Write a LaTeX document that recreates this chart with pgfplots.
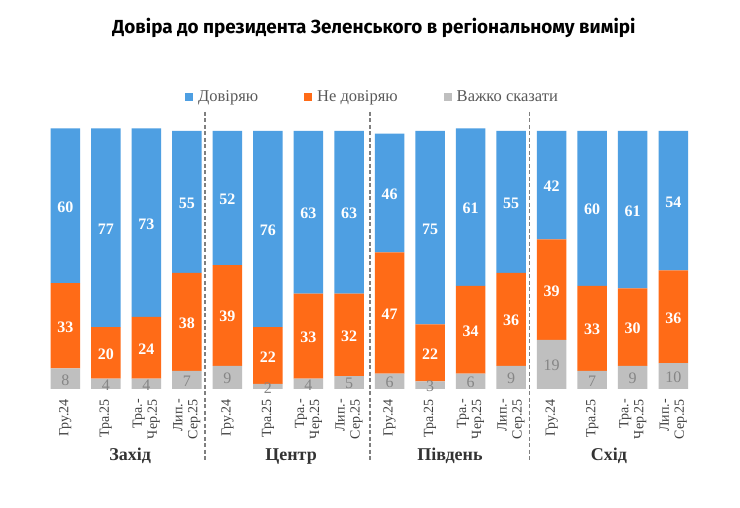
\documentclass[border=0pt]{standalone}
\usepackage{pgfplots}
\pgfplotsset{compat=1.18}
\usepackage{pgfplotstable}
\usepackage{fontspec}
\setmainfont{Liberation Serif}
\newfontfamily\titlefont{Fira Sans}
\definecolor{cblue}{HTML}{4E9FE2}
\definecolor{corange}{HTML}{FF6B17}
\definecolor{cgray}{HTML}{BFBFBF}
\definecolor{cgraytxt}{HTML}{858585}
\definecolor{ctick}{HTML}{404040}
\definecolor{clegend}{HTML}{595959}
\definecolor{csep}{HTML}{7F7F7F}
\pgfplotstableread{
x t n h
0 60 33 8
1 77 20 4
2 73 24 4
3 55 38 7
4 52 39 9
5 76 22 2
6 63 33 4
7 63 32 5
8 46 47 6
9 75 22 3
10 61 34 6
11 55 36 9
12 42 39 19
13 60 33 7
14 61 30 9
15 54 36 10
}\datatable
\begin{document}
\begin{tikzpicture}[x=1pt,y=1pt]
\path[use as bounding box,fill=white] (0,0) rectangle (740,508);
\node[font=\titlefont\bfseries\fontsize{18.9}{22}\selectfont] at (374,480) {Довіра до президента Зеленського в регіональному вимірі};
\begin{axis}[
  at={(45.03pt,119pt)}, anchor=south west,
  scale only axis, width=648.5pt, height=258pt,
  xmin=-0.5, xmax=15.5, ymin=0, ymax=100,
  ybar stacked, bar width=0.728,
  axis line style={draw=none},
  ytick=\empty,
  xtick={0,...,15},
  xticklabels={Гру.24,Тра.25,Тра.-\\Чер.25,Лип.-\\Сер.25,Гру.24,Тра.25,Тра.-\\Чер.25,Лип.-\\Сер.25,Гру.24,Тра.25,Тра.-\\Чер.25,Лип.-\\Сер.25,Гру.24,Тра.25,Тра.-\\Чер.25,Лип.-\\Сер.25},
  major tick length=0pt,
  xticklabel style={yshift=-10pt, rotate=90, anchor=east, align=right, inner sep=0pt, font=\fontsize{14}{15}\selectfont, text=ctick},
  clip=false,
  /pgf/number format/assume math mode=true,
  point meta=explicit,
  nodes near coords={\pgfmathprintnumber{\pgfplotspointmeta}},
  visualization depends on={\pgfplotspointmeta \as \rawv},
  every node near coord/.append style={anchor=center, inner sep=0pt, shift={(axis direction cs:0,-\rawv/2)}},
  reverse legend,
  legend style={at={(0.505,1.132)}, anchor=center, draw=none, fill=none, legend columns=3,
    font=\fontsize{16.5}{17}\selectfont, text=clegend,
    /tikz/every odd column/.append style={column sep=3pt},
    /tikz/every even column/.append style={column sep=44pt}},
  legend image code/.code={\fill[#1] (0pt,-4pt) rectangle (8pt,4pt);},
]
\addplot[fill=cgray, draw=none, every node near coord/.append style={text=cgraytxt, font=\fontsize{16}{16}\selectfont}] table[x=x, y=h, meta=h] {\datatable};
\addplot[fill=corange, draw=none, every node near coord/.append style={text=white, font=\bfseries\fontsize{16}{16}\selectfont}] table[x=x, y=n, meta=n] {\datatable};
\addplot[fill=cblue, draw=none, every node near coord/.append style={text=white, font=\bfseries\fontsize{16}{16}\selectfont}] table[x=x, y=t, meta=t] {\datatable};
\legend{Важко сказати, Не довіряю, Довіряю}
\draw[csep, line width=1.3pt, dash pattern=on 4pt off 2.5pt] (axis cs:3.45,107.4) -- (axis cs:3.45,-28.3);
\draw[csep, line width=1.3pt, dash pattern=on 4pt off 2.5pt] (axis cs:7.52,107.4) -- (axis cs:7.52,-28.3);
\draw[csep, line width=1.3pt, dash pattern=on 4pt off 2.5pt] (axis cs:11.45,107.4) -- (axis cs:11.45,-28.3);
\node[font=\bfseries\fontsize{18}{18}\selectfont, text=ctick!80!black] at (axis cs:1.6,-26) {Захід};
\node[font=\bfseries\fontsize{18}{18}\selectfont, text=ctick!80!black] at (axis cs:5.57,-26) {Центр};
\node[font=\bfseries\fontsize{18}{18}\selectfont, text=ctick!80!black] at (axis cs:9.49,-26) {Південь};
\node[font=\bfseries\fontsize{18}{18}\selectfont, text=ctick!80!black] at (axis cs:13.41,-26) {Схід};
\end{axis}
\end{tikzpicture}
\end{document}
